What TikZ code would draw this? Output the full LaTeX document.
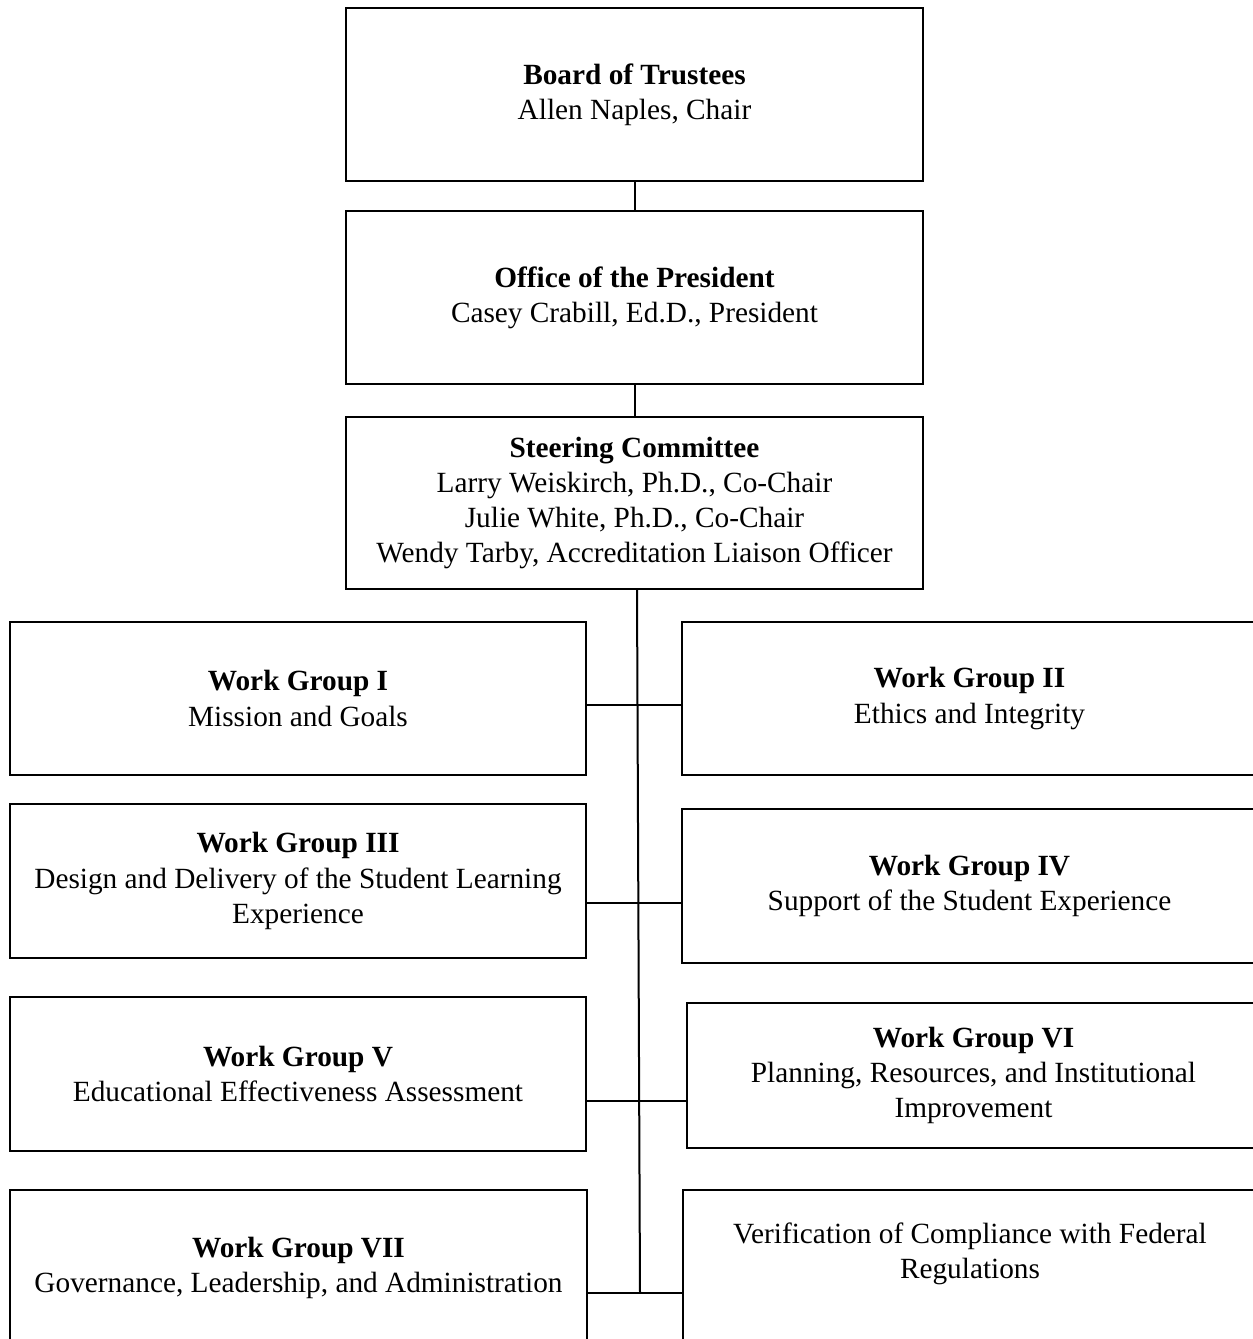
\documentclass[tikz,border=0pt]{standalone}
\usepackage{fontspec}
\setmainfont{Liberation Serif}
\begin{document}
\begin{tikzpicture}[x=1pt,y=-1pt,
  box/.style={draw,line width=2pt,inner sep=0pt,align=center,anchor=north west,
    font=\fontsize{29.3}{35.3}\selectfont},
  lbl/.style={inner sep=0pt,align=center,font=\fontsize{29.3}{35.3}\selectfont},
  conn/.style={line width=2pt}]
\clip (0,0) rectangle (1253,1339);
\fill[white] (0,0) rectangle (1253,1339);

\node[box,minimum width=577,minimum height=173] (board) at (345,7)
  {\textbf{Board of Trustees}\\Allen Naples, Chair};
\node[box,minimum width=577,minimum height=173] (pres) at (345,210)
  {\textbf{Office of the President}\\Casey Crabill, Ed.D., President};
\node[box,minimum width=577,minimum height=172] (steer) at (345,416)
  {\textbf{Steering Committee}\\Larry Weiskirch, Ph.D., Co-Chair\\Julie White, Ph.D., Co-Chair\\Wendy Tarby, Accreditation Liaison Officer};

\node[box,minimum width=576,minimum height=153] (wg1) at (9,621)
  {\textbf{Work Group I}\\Mission and Goals};
\node[box,minimum width=575,minimum height=153] (wg2) at (681,621)
  {\textbf{Work Group II}\\Ethics and Integrity};
\node[box,minimum width=576,minimum height=154] (wg3) at (9,803)
  {\textbf{Work Group III}\\Design and Delivery of the Student Learning\\Experience};
\node[box,minimum width=575,minimum height=154] (wg4) at (681,808)
  {\textbf{Work Group IV}\\Support of the Student Experience};
\node[box,minimum width=576,minimum height=154] (wg5) at (9,996)
  {\textbf{Work Group V}\\Educational Effectiveness Assessment};
\node[box,minimum width=573,minimum height=145] (wg6) at (686,1002)
  {\textbf{Work Group VI}\\Planning, Resources, and Institutional\\Improvement};
\node[box,minimum width=577,minimum height=156] (wg7) at (9,1189)
  {\textbf{Work Group VII}\\Governance, Leadership, and Administration};
\node[box,minimum width=574,minimum height=160] (ver) at (682,1189) {};
\node[lbl] (verlbl) at (970,1254)
  {Verification of Compliance with Federal\\Regulations};

\coordinate (j1) at (637,705);
\coordinate (j2) at (638,903);
\coordinate (j3) at (639,1101);
\coordinate (j4) at (640,1293);

\draw[conn] (board.south) -- (pres.north);
\draw[conn] (pres.south) -- (steer.north);
\draw[conn] (steer.south -| j1) -- (j4);
\draw[conn] (j1 -| wg1.east) -- (j1 -| wg2.west);
\draw[conn] (j2 -| wg3.east) -- (j2 -| wg4.west);
\draw[conn] (j3 -| wg5.east) -- (j3 -| wg6.west);
\draw[conn] (j4 -| wg7.east) -- (j4 -| ver.west);
\end{tikzpicture}
\end{document}
